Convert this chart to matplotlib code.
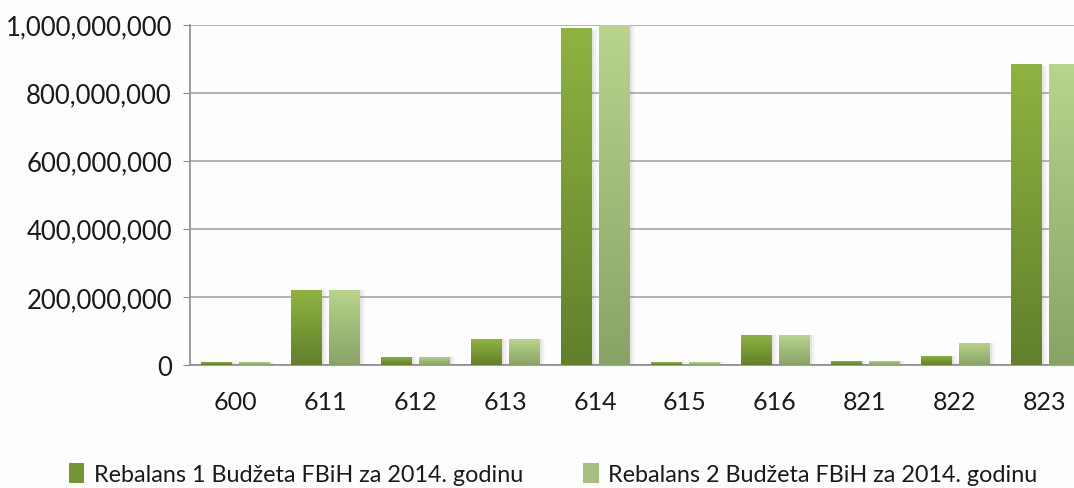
import numpy as np
import matplotlib
matplotlib.use("Agg")
import matplotlib.pyplot as plt
from matplotlib.patches import Patch
from matplotlib.colors import LinearSegmentedColormap
from matplotlib.ticker import FuncFormatter

plt.rcParams['font.family'] = ['Lato', 'DejaVu Sans']

# data
categories = ["600", "611", "612", "613", "614", "615", "616", "821", "822", "823"]
rebalans_1 = [9e6, 220e6, 24e6, 76e6, 990e6, 8e6, 88e6, 13e6, 27e6, 884e6]
rebalans_2 = [9e6, 220e6, 24e6, 76e6, 1000e6, 8e6, 88e6, 13e6, 66e6, 884e6]
series_names = ["Rebalans 1 Budžeta FBiH za 2014. godinu",
                "Rebalans 2 Budžeta FBiH za 2014. godinu"]
yticks = [0, 200e6, 400e6, 600e6, 800e6, 1000e6]

# top -> bottom gradient colours
grad_1 = LinearSegmentedColormap.from_list("g1", ["#8fb340", "#62802b"])
grad_2 = LinearSegmentedColormap.from_list("g2", ["#b9d48b", "#88a366"])

fig = plt.figure(figsize=(10.74, 4.89), dpi=100)
fig.patch.set_facecolor("#fdfdfd")
ax = fig.add_axes([190 / 1074, 1 - 366 / 489, 900 / 1074, 340.5 / 489])
ax.set_facecolor("#fdfdfd")

x = np.arange(len(categories))
width = 0.344
offset = 0.211


def gradient_bars(xpos, values, cmap):
    bars = ax.bar(xpos, values, width, color="none", edgecolor="none", zorder=3)
    grad = np.linspace(0, 1, 256).reshape(-1, 1)
    for b in bars:
        x0, y0 = b.get_x(), b.get_y()
        w, h = b.get_width(), b.get_height()
        # soft shadow to the right
        for k, a in [(0.025, 0.10), (0.045, 0.06), (0.065, 0.03)]:
            ax.add_patch(plt.Rectangle((x0 + k, y0), w, h * 0.995, color="#7a7a7a",
                                       alpha=a, lw=0, zorder=2))
        im = ax.imshow(grad, cmap=cmap, aspect="auto", extent=[x0, x0 + w, y0, y0 + h],
                       zorder=3, interpolation="bilinear")
        im.set_clip_path(b)
    return bars


gradient_bars(x - offset, rebalans_1, grad_1)
gradient_bars(x + offset, rebalans_2, grad_2)

ax.set_xlim(-0.5, len(categories) - 0.5)
ax.set_ylim(0, 1000e6)
ax.set_yticks(yticks)
ax.yaxis.set_major_formatter(FuncFormatter(lambda v, p: f"{int(v):,}"))
ax.set_xticks(x)
ax.set_xticklabels(categories)

ax.grid(axis="y", color="#a6a6a6", lw=1.2, zorder=1)
ax.set_axisbelow(True)
for s in ["top", "right"]:
    ax.spines[s].set_visible(False)
for s in ["left", "bottom"]:
    ax.spines[s].set_color("#8c8c8c")
    ax.spines[s].set_linewidth(1.2)

ax.tick_params(axis="y", length=5, color="#8c8c8c", labelsize=18.5,
               labelcolor="#1a1a1a", pad=8)
ax.tick_params(axis="x", length=0, labelsize=18, labelcolor="#1a1a1a", pad=18)

handles = [Patch(facecolor="#739632", edgecolor="none"),
           Patch(facecolor="#a5bf7c", edgecolor="none")]
fig.legend(handles, series_names, loc="center", bbox_to_anchor=(0.515, 0.028),
           ncol=2, frameon=False, fontsize=16.8, handlelength=0.65, handleheight=0.9,
           handletextpad=0.4, columnspacing=2.6, labelcolor="#1a1a1a")

fig.savefig("out.png", dpi=100, facecolor=fig.get_facecolor())
